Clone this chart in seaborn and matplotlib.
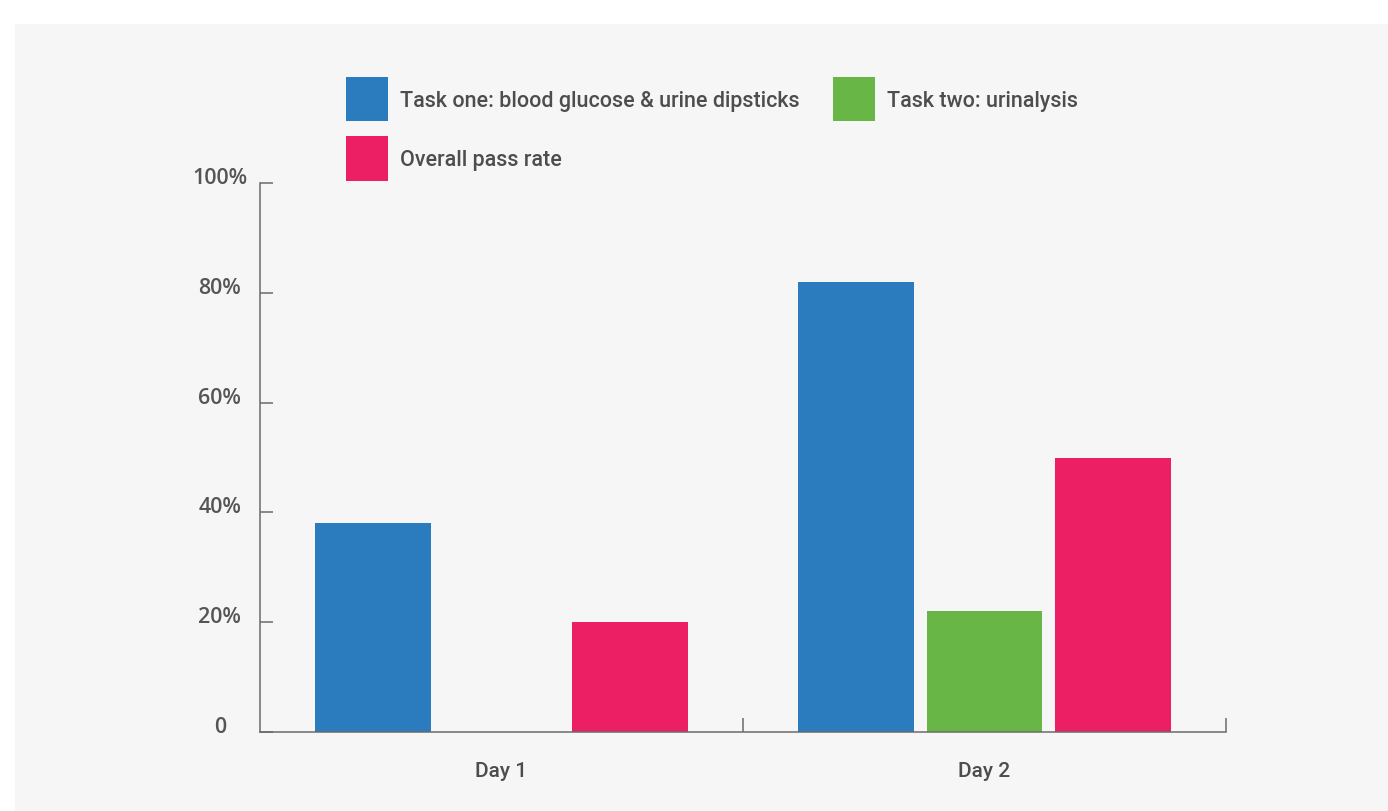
import matplotlib
matplotlib.use("Agg")
import matplotlib.pyplot as plt
from matplotlib.patches import Rectangle
import pandas as pd
import seaborn as sns

# Pass rates (%) per day for each assessment
days = ["Day 1", "Day 2"]
series = [
    "Task one: blood glucose & urine dipsticks",
    "Task two: urinalysis",
    "Overall pass rate",
]
task_one = [38, 82]
task_two = [0, 22]
overall = [20, 50]
colors = ["#2b7bbf", "#67b646", "#ec1e64"]
y_ticks = [0, 20, 40, 60, 80, 100]
y_tick_labels = ["0", "20%", "40%", "60%", "80%", "100%"]

df = pd.DataFrame({
    "day": days * 3,
    "series": [s for s in series for _ in days],
    "value": task_one + task_two + overall,
})

sns.set_theme(style="white")
plt.rcParams["font.family"] = ["DejaVu Sans"]

W, H = 1388, 812
fig = plt.figure(figsize=(W / 100, H / 100), dpi=100, facecolor="white")
# light grey panel behind the chart
fig.patches.append(Rectangle((15 / W, 0), 1 - 15 / W, (H - 25) / H,
                             transform=fig.transFigure, facecolor="#f6f6f6",
                             edgecolor="none", zorder=-10))

ax = fig.add_axes([260 / W, (H - 733) / H, (1226 - 260) / W, (733 - 184) / H])
ax.set_facecolor("none")
ax.set_zorder(5)

sns.barplot(data=df, x="day", y="value", hue="series", hue_order=series,
            palette=colors, width=0.8, gap=0.1, saturation=1,
            linewidth=0, ax=ax)

text_color = "#4d4d4d"
axis_color = "#6b6b6b"
narrow = ["Roboto", "DejaVu Sans"]

ax.set_ylim(0, 100)
ax.set_xlim(-0.5, 1.5)
ax.set_yticks(y_ticks)
# y labels are centred in a column and sit on their tick marks
ax.set_yticklabels(y_tick_labels, fontsize=15.5, color="#555555",
                   family=["Open Sans", "DejaVu Sans"], fontweight="semibold",
                   verticalalignment="baseline", horizontalalignment="center")
ax.set_xticks(range(len(days)))
ax.set_xticklabels(days, fontsize=15, color=text_color, family=narrow,
                   fontweight="medium")
ax.set_xticks([0.5, 1.5], minor=True)
ax.tick_params(axis="y", direction="in", length=9, width=1.1,
               color=axis_color, pad=29, left=True)
ax.tick_params(axis="x", which="major", length=0, pad=21)
ax.tick_params(axis="x", which="minor", direction="in", length=10,
               width=1.1, color=axis_color, bottom=True)
ax.set_xlabel("")
ax.set_ylabel("")

for side in ["top", "right"]:
    ax.spines[side].set_visible(False)
for side in ["left", "bottom"]:
    ax.spines[side].set_color(axis_color)
    ax.spines[side].set_linewidth(1.1)

handles, labels = ax.get_legend_handles_labels()
ax.get_legend().remove()
order = [0, 2, 1]
fig.legend([handles[i] for i in order], [labels[i] for i in order],
           loc="upper left", bbox_to_anchor=(346 / W, 1 - 78 / H),
           ncol=2, frameon=False, borderpad=0, borderaxespad=0,
           handlelength=1.95, handleheight=2.8, handletextpad=0.55,
           labelspacing=0.68, columnspacing=1.55,
           prop={"family": narrow, "size": 15.5, "weight": "medium"},
           labelcolor=text_color)

fig.savefig("out.png", dpi=100, facecolor="white")
